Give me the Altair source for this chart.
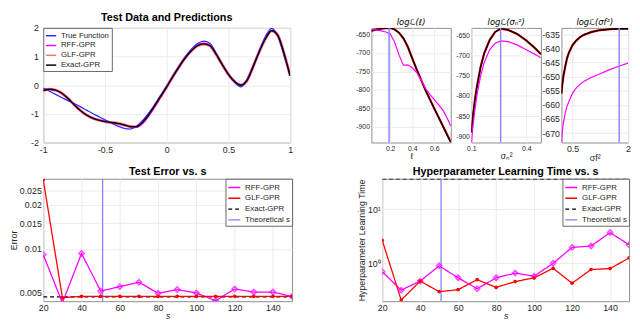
import altair as alt
import pandas as pd

FONT = "Liberation Sans"
TXT = "#262626"

# ---------------- Panel A: test data and predictions ----------------
xa = [-1.0, -0.95, -0.9, -0.85, -0.8, -0.75, -0.7, -0.65, -0.6, -0.55, -0.5, -0.45, -0.4, -0.35,
      -0.3, -0.25, -0.2, -0.15, -0.1, -0.05, 0.0, 0.05, 0.1, 0.15, 0.2, 0.25, 0.3, 0.35, 0.4, 0.45,
      0.5, 0.55, 0.6, 0.65, 0.7, 0.75, 0.8, 0.85, 0.9, 0.95, 1.0]
true_f = [-0.10, -0.21, -0.32, -0.43, -0.54, -0.64, -0.75, -0.87, -0.99, -1.10, -1.21, -1.32, -1.42, -1.50,
          -1.53, -1.45, -1.26, -1.00, -0.70, -0.37, -0.03, 0.32, 0.67, 0.99, 1.26, 1.45, 1.54, 1.46, 1.12, 0.72,
          0.37, 0.10, -0.06, 0.20, 0.68, 1.20, 1.70, 1.98, 1.72, 1.05, 0.33]
rff_a = [-0.20, -0.15, -0.17, -0.28, -0.46, -0.67, -0.87, -1.03, -1.15, -1.22, -1.27, -1.30, -1.34, -1.39,
         -1.45, -1.47, -1.36, -1.10, -0.78, -0.43, -0.08, 0.29, 0.63, 0.95, 1.21, 1.40, 1.47, 1.40, 1.09, 0.72,
         0.37, 0.12, 0.02, 0.17, 0.64, 1.17, 1.62, 1.91, 1.75, 1.13, 0.33]
glf_a = [-0.18, -0.14, -0.17, -0.28, -0.46, -0.68, -0.88, -1.04, -1.15, -1.22, -1.27, -1.30, -1.33, -1.38,
         -1.44, -1.45, -1.32, -1.06, -0.74, -0.40, -0.06, 0.30, 0.64, 0.95, 1.20, 1.38, 1.44, 1.38, 1.08, 0.72,
         0.38, 0.13, 0.00, 0.16, 0.64, 1.17, 1.62, 1.90, 1.74, 1.12, 0.33]
exact_a = [-0.18, -0.14, -0.17, -0.28, -0.46, -0.68, -0.88, -1.04, -1.15, -1.22, -1.27, -1.30, -1.33, -1.38,
           -1.44, -1.45, -1.32, -1.06, -0.74, -0.40, -0.06, 0.30, 0.64, 0.95, 1.20, 1.38, 1.44, 1.38, 1.08, 0.72,
           0.38, 0.13, 0.00, 0.16, 0.64, 1.17, 1.62, 1.90, 1.74, 1.12, 0.33]
names_a = ["True Function", "RFF-GPR", "GLF-GPR", "Exact-GPR"]
colors_a = ["#2b2bff", "#ff00ff", "#ff7070", "#000000"]

# ---------------- Panel B1: log-likelihood vs lengthscale ----------------
l_x = [0.03, 0.08, 0.12, 0.16, 0.2, 0.24, 0.28, 0.32, 0.36, 0.4, 0.44, 0.48, 0.52, 0.56, 0.6, 0.64, 0.68, 0.72, 0.75]
l_exact = [-640, -636, -634, -633, -632, -636, -645, -660, -683, -714, -744, -772, -800, -825, -850, -874, -899, -924, -942]
l_glf = [-640, -636, -634, -633, -632, -636, -645, -660, -683, -714, -744, -772, -800, -825, -850, -874, -898, -922, -940]
l_rff = [-637, -638, -640, -643, -648, -670, -705, -733, -732, -740, -752, -772, -796, -812, -826, -840, -855, -878, -898]
l_opt = [0.19]

# ---------------- Panel B2: log-likelihood vs noise variance ----------------
n_x = [0.1, 0.11, 0.12, 0.13, 0.15, 0.17, 0.2, 0.23, 0.26, 0.3, 0.35, 0.4, 0.45, 0.48]
n_exact = [-890, -845, -808, -778, -730, -695, -662, -642, -634, -637, -647, -663, -683, -697]
n_glf = [-890, -845, -808, -778, -730, -695, -662, -642, -634, -637, -647, -663, -683, -697]
n_rff = [-918, -870, -833, -800, -752, -718, -686, -670, -664, -666, -674, -686, -698, -706]
n_opt = [0.26]

# ---------------- Panel B3: log-likelihood vs signal variance ----------------
f_x = [0.2, 0.22, 0.25, 0.3, 0.35, 0.4, 0.5, 0.6, 0.7, 0.8, 1.0, 1.2, 1.5, 1.75, 2.0]
f_exact = [-656, -653, -650, -646.5, -643.5, -641.5, -638.8, -637.2, -636, -635.2, -634.2, -633.6, -633.2, -633, -633]
f_glf = [-656, -653, -650, -646.5, -643.5, -641.5, -638.8, -637.2, -636, -635.2, -634.2, -633.6, -633.2, -633, -633]
f_rff = [-673.5, -670, -666.5, -663, -660.5, -658.8, -655.8, -654, -652.7, -651.7, -650.3, -649.2, -647.5, -646.3, -645.2]
f_opt = [1.76]

# ---------------- Panels C, D ----------------
s_vals = [20, 30, 40, 50, 60, 70, 80, 90, 100, 110, 120, 130, 140, 150]
err_rff = [0.0091, 0.00426, 0.0093, 0.00513, 0.0055, 0.0059, 0.00495, 0.00525, 0.00498, 0.0044, 0.0053, 0.00505, 0.00505, 0.0047]
err_glf = [0.0298, 0.00462, 0.00472, 0.00471, 0.00472, 0.00471, 0.00471, 0.00472, 0.00471, 0.00471, 0.00472, 0.00471, 0.00471, 0.00471]
err_exact = 0.00468
time_rff = [0.70, 0.32, 0.47, 0.90, 0.54, 0.34, 0.54, 0.66, 0.58, 1.0, 1.97, 2.09, 3.7, 2.2]
time_glf = [2.67, 0.21, 0.47, 0.30, 0.326, 0.50, 0.36, 0.46, 0.54, 0.81, 0.43, 0.77, 0.80, 1.26]
time_exact = 36.3
theoretical_s = 51
names_cd = ["RFF-GPR", "GLF-GPR", "Exact-GPR", "Theoretical s"]
colors_cd = ["#ff00ff", "#ff0000", "#000000", "#8080ff"]
dash_cd = [[1, 0], [1, 0], [4, 3], [1, 0]]


def long(x, series):
    rows = []
    for name, ys in series.items():
        for xi, yi in zip(x, ys):
            rows.append({"x": xi, "y": yi, "series": name})
    return pd.DataFrame(rows)


def title(text, size=11, weight="bold", style="normal", font=FONT):
    return alt.TitleParams(text, fontSize=size, fontWeight=weight, fontStyle=style, font=font,
                           color="black", offset=1, anchor="middle")


LBL = "''+datum.value"
TOP_H = 117
BOT_H = 125

# ---- Panel A
df_a = long(xa, {"True Function": true_f, "RFF-GPR": rff_a, "GLF-GPR": glf_a, "Exact-GPR": exact_a})
leg_a = alt.Legend(title=None, orient="top-left", offset=0, symbolType="stroke", symbolSize=110,
                   symbolStrokeWidth=1.5, labelFontSize=8, labelFont=FONT, labelColor=TXT,
                   fillColor="white", strokeColor="#666666", padding=2, rowPadding=0, labelLimit=120)
xa_enc = alt.X("x:Q", scale=alt.Scale(domain=[-1, 1], nice=False),
               axis=alt.Axis(values=[-1, -0.5, 0, 0.5, 1], labelExpr=LBL, title=None, labelFontSize=9,
                             labelFlush=False, labelPadding=3))
ya_enc = alt.Y("y:Q", scale=alt.Scale(domain=[-2, 2], nice=False),
               axis=alt.Axis(values=[-2, -1, 0, 1, 2], labelExpr=LBL, title=None, labelFontSize=9, labelPadding=5))
layers_a = []
for name, w in [("GLF-GPR", 3), ("True Function", 1.3), ("RFF-GPR", 1.3), ("Exact-GPR", 1.4)]:
    layers_a.append(
        alt.Chart(df_a).transform_filter(alt.datum.series == name)
        .mark_line(strokeWidth=w, interpolate="monotone", clip=True)
        .encode(x=xa_enc, y=ya_enc,
                color=alt.Color("series:N", scale=alt.Scale(domain=names_a, range=colors_a), legend=leg_a))
    )
panel_a = alt.layer(*layers_a).properties(width=252, height=TOP_H, title=title("Test Data and Predictions"))


# ---- Panels B
def bpanel(x, exact, glf, rff, opt, xdom, ydom, xvals, yvals, ttl, xtitle, w, lab=8):
    df = long(x, {"Exact": exact, "GLF": glf, "RFF": rff})
    xe = alt.X("x:Q", scale=alt.Scale(domain=xdom, nice=False),
               axis=alt.Axis(values=xvals, labelExpr=LBL, title=xtitle, labelFontSize=lab, labelFlush=False,
                             titleFontSize=9, titleFontWeight="normal", titlePadding=0, labelPadding=2))
    ye = alt.Y("y:Q", scale=alt.Scale(domain=ydom, nice=False),
               axis=alt.Axis(values=yvals, labelExpr=LBL, title=None, labelFontSize=lab, labelPadding=2))
    base = alt.Chart(df)
    red = base.transform_filter(alt.datum.series == "GLF").mark_line(color="#ff0000", strokeWidth=2.2, clip=True).encode(x=xe, y=ye)
    blk = base.transform_filter(alt.datum.series == "Exact").mark_line(color="#000000", strokeWidth=1.4, clip=True).encode(x=xe, y=ye)
    mag = base.transform_filter(alt.datum.series == "RFF").mark_line(color="#ff00ff", strokeWidth=1.2, clip=True).encode(x=xe, y=ye)
    rule = alt.Chart(pd.DataFrame({"x": opt})).mark_rule(color="#8888ff", strokeWidth=1.5).encode(x=alt.X("x:Q"))
    return alt.layer(red, blk, mag, rule).properties(
        width=w, height=TOP_H, title=title(ttl, size=8.5, weight="normal", style="italic", font="DejaVu Sans"))


b1 = bpanel(l_x, l_exact, l_glf, l_rff, l_opt, [0.03, 0.75], [-942, -632], [0.2, 0.4, 0.6],
            [-900, -850, -800, -750, -700, -650], "logℒ(ℓ)", "ℓ", 81, lab=7)
b2 = bpanel(n_x, n_exact, n_glf, n_rff, n_opt, [0.1, 0.48], [-915, -632], [0.1, 0.2, 0.3, 0.4],
            [-900, -850, -800, -750, -700, -650], "logℒ(σₙ²)", "σₙ²", 71, lab=7)
b3 = bpanel(f_x, f_exact, f_glf, f_rff, f_opt, [0.2, 2.0], [-673.3, -632.7], [0.5, 1, 1.5, 2],
            [-670, -665, -660, -655, -650, -645, -640, -635], "logℒ(σf²)", "σf²", 68, lab=9)


# ---- Panels C and D
def cdpanel(rff, glf, exact, ydom, yvals, ylabel_expr, ytitle, ttl, w):
    df = pd.concat([
        long(s_vals, {"RFF-GPR": rff, "GLF-GPR": glf}),
        long([s_vals[0], s_vals[-1]], {"Exact-GPR": [exact, exact]}),
        long([theoretical_s, theoretical_s], {"Theoretical s": ydom}),
    ], ignore_index=True)
    leg = alt.Legend(title=None, orient="top-right", offset=0, symbolType="stroke", symbolSize=150,
                     symbolStrokeWidth=1.5, labelFontSize=8, labelFont=FONT, labelColor=TXT,
                     fillColor="white", strokeColor="#666666", padding=2, rowPadding=0, labelLimit=120)
    xe = alt.X("x:Q", scale=alt.Scale(domain=[20, 150], nice=False),
               axis=alt.Axis(values=[20, 40, 60, 80, 100, 120, 140], title="s", titleFontStyle="italic",
                             titleFontSize=9, titleFontWeight="normal", titlePadding=0, labelFontSize=9,
                             labelFlush=False, labelPadding=2))
    ye = alt.Y("y:Q", scale=alt.Scale(type="log", domain=ydom, nice=False),
               axis=alt.Axis(values=yvals, labelExpr=ylabel_expr, title=ytitle, titleFontSize=9,
                             titleFontWeight="normal", titlePadding=1, labelFontSize=9, labelPadding=2))
    col = alt.Color("series:N", scale=alt.Scale(domain=names_cd, range=colors_cd), legend=leg)
    dash = alt.StrokeDash("series:N", scale=alt.Scale(domain=names_cd, range=dash_cd), legend=leg)
    base = alt.Chart(df)
    layers = []
    for name in ["Exact-GPR", "Theoretical s", "RFF-GPR", "GLF-GPR"]:
        layers.append(base.transform_filter(alt.datum.series == name)
                      .mark_line(strokeWidth=1.3, clip=True).encode(x=xe, y=ye, color=col, strokeDash=dash))
    pr = base.transform_filter(alt.datum.series == "RFF-GPR").mark_point(
        shape="diamond", filled=False, color="#ff00ff", size=30, strokeWidth=1.5, clip=True).encode(x=xe, y=ye)
    pg = base.transform_filter(alt.datum.series == "GLF-GPR").mark_point(
        shape="circle", filled=True, color="#ff0000", size=14, opacity=1, clip=True).encode(x=xe, y=ye)
    return alt.layer(*layers, pr, pg).properties(width=w, height=BOT_H, title=title(ttl))


panel_c = cdpanel(err_rff, err_glf, err_exact, [0.00437, 0.0303], [0.005, 0.01, 0.015, 0.02, 0.025],
                  LBL, "Error", "Test Error vs. s", 254)
panel_d = cdpanel(time_rff, time_glf, time_exact, [0.2, 36.5], [1, 10],
                  "datum.value == 1 ? '10⁰' : '10¹'", "Hyperparameter Learning Time",
                  "Hyperparameter Learning Time vs. s", 252)

ind = dict(color="independent", strokeDash="independent")
top_b = alt.hconcat(b1, b2, b3, spacing=21, bounds="flush").resolve_scale(**ind)
top = alt.hconcat(panel_a, top_b, spacing=83, bounds="flush").resolve_scale(**ind)
bottom = alt.hconcat(panel_c, panel_d, spacing=92, bounds="flush").resolve_scale(**ind)
chart = (
    alt.vconcat(top, bottom, spacing=3, bounds="full").resolve_scale(**ind)
    .properties(padding={"left": 0, "top": 0, "right": 0, "bottom": 0}, background="white")
    .configure_view(stroke="#8c8c8c", strokeWidth=1)
    .configure_axis(grid=True, gridColor="#ebebeb", domain=False, ticks=False, labelFont=FONT,
                    labelColor=TXT, titleFont=FONT, titleColor=TXT)
)
chart.save("out.html", embed_options={"renderer": "svg", "actions": False})
